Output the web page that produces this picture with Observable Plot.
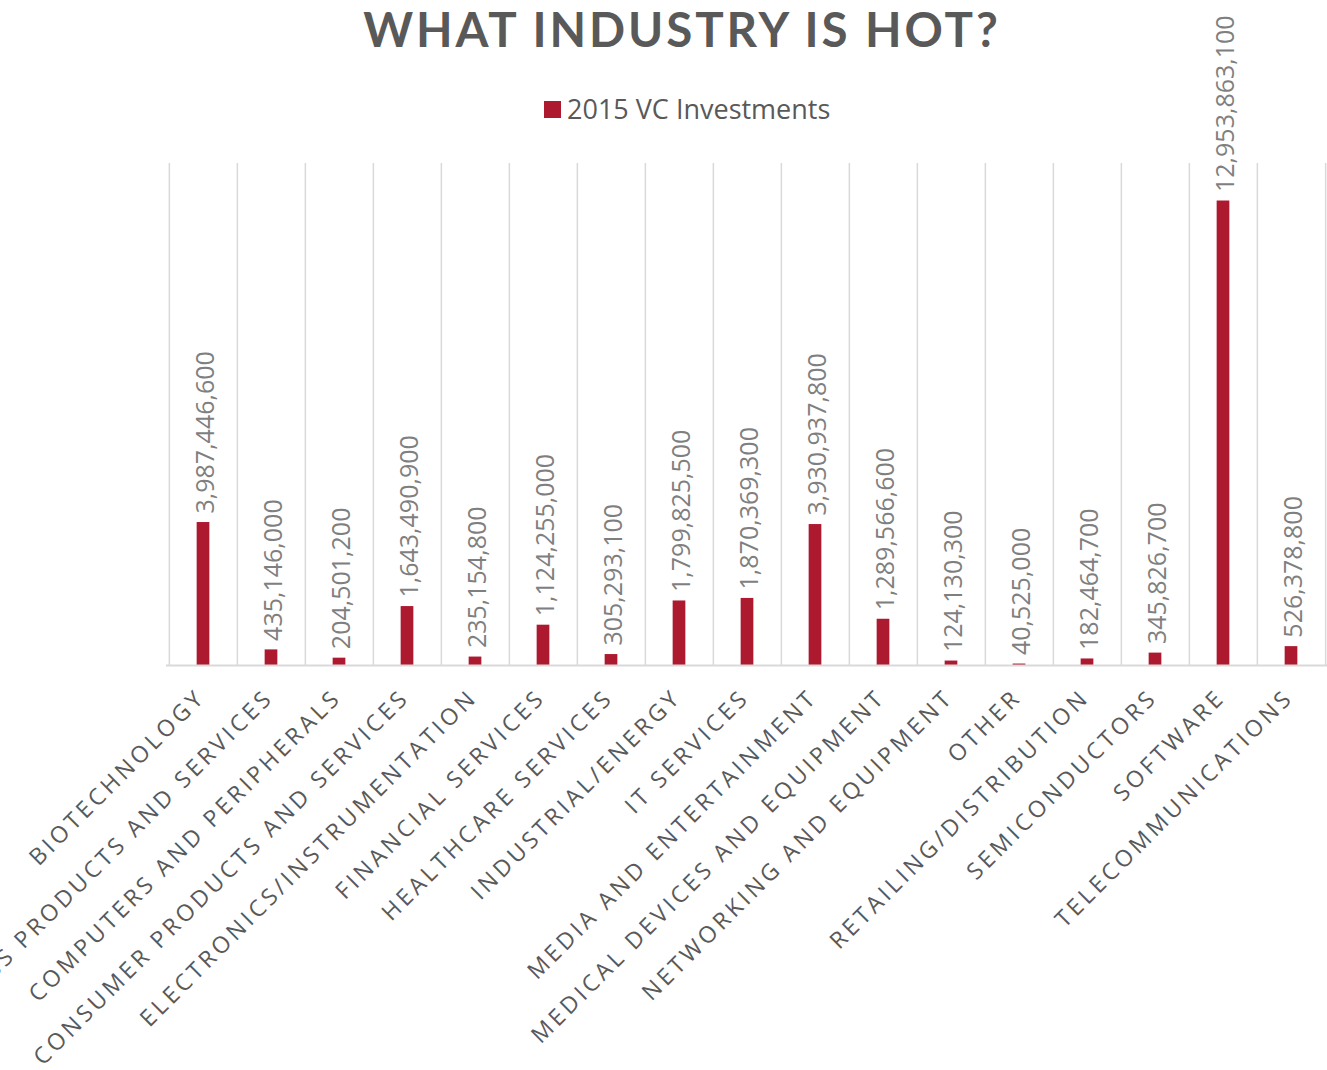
<!DOCTYPE html>
<html><head><meta charset="utf-8">
<script src="https://cdn.jsdelivr.net/npm/d3@7"></script>
<script src="https://cdn.jsdelivr.net/npm/@observablehq/plot@0.6"></script>
<style>
body{margin:0;background:#fff;font-family:"Open Sans",sans-serif;}
#wrap{position:relative;width:1327px;height:1070px;overflow:hidden;}
#header{position:relative;width:1327px;height:140px;}
#title{position:absolute;left:0;top:0;width:1290px;padding-left:37px;text-align:center;white-space:nowrap;font-family:Lato,"Open Sans",sans-serif;font-weight:700;font-size:47.5px;letter-spacing:2.9px;color:#595959;line-height:normal;}
#legend{position:absolute;left:544px;top:92px;display:flex;align-items:center;white-space:nowrap;font-size:27px;color:#595959;line-height:34px}
#legend .sw{display:inline-block;width:17px;height:17px;background:#ad1a30;margin-right:6px}
#chart svg{display:block;overflow:visible}
#chart [aria-label="x-axis tick label"]{letter-spacing:3.6px}
</style></head>
<body><div id="wrap"><div id="header"><div id="title">WHAT INDUSTRY IS HOT?</div><div id="legend"><span class="sw"></span><span id="legendText"></span></div></div><div id="chart"></div></div>
<script>
const categories = [
  "BIOTECHNOLOGY",
  "BUSINESS PRODUCTS AND SERVICES",
  "COMPUTERS AND PERIPHERALS",
  "CONSUMER PRODUCTS AND SERVICES",
  "ELECTRONICS/INSTRUMENTATION",
  "FINANCIAL SERVICES",
  "HEALTHCARE SERVICES",
  "INDUSTRIAL/ENERGY",
  "IT SERVICES",
  "MEDIA AND ENTERTAINMENT",
  "MEDICAL DEVICES AND EQUIPMENT",
  "NETWORKING AND EQUIPMENT",
  "OTHER",
  "RETAILING/DISTRIBUTION",
  "SEMICONDUCTORS",
  "SOFTWARE",
  "TELECOMMUNICATIONS"
];
const investments = [
  3987446600,
  435146000,
  204501200,
  1643490900,
  235154800,
  1124255000,
  305293100,
  1799825500,
  1870369300,
  3930937800,
  1289566600,
  124130300,
  40525000,
  182464700,
  345826700,
  12953863100,
  526378800
];
const seriesName = "2015 VC Investments";
const yDomain = [0, 14000000000];

document.getElementById("legendText").textContent = seriesName;

const data = categories.map((c, i) => ({industry: c, value: investments[i]}));
const W = 1327, H = 930, ml = 166, mr = 0;
const bw = (W - ml - mr) / categories.length;
const barW = 13;
const fmt = d3.format(",");

const chart = Plot.plot({
  width: W, height: H,
  marginLeft: ml, marginRight: mr, marginTop: 23, marginBottom: 405,
  style: {fontFamily: "'Open Sans', sans-serif", background: "transparent", color: "#595959", overflow: "visible"},
  x: {domain: categories, padding: 0},
  y: {domain: yDomain, axis: null},
  marks: [
    Plot.ruleX(categories, {x: d => d, dx: -bw / 2, stroke: "#d9d9d9", strokeWidth: 1.5}),
    Plot.ruleX(categories.slice(-1), {x: d => d, dx: bw / 2, stroke: "#d9d9d9", strokeWidth: 1.5}),
    Plot.barY(data, {x: "industry", y: "value", fill: "#ad1a30", insetLeft: (bw - barW) / 2, insetRight: (bw - barW) / 2}),
    Plot.ruleY([0], {stroke: "#d9d9d9", strokeWidth: 2}),
    Plot.text(data, {x: "industry", y: "value", text: d => fmt(d.value), rotate: -90, textAnchor: "start", dy: -9, dx: 2, fill: "#7f7f7f", fontSize: 25}),
    Plot.axisX({tickSize: 0, tickRotate: -45, tickPadding: 28, dx: -2, fontSize: 23, label: null})
  ]
});
document.getElementById("chart").appendChild(chart);
</script>
</body></html>
